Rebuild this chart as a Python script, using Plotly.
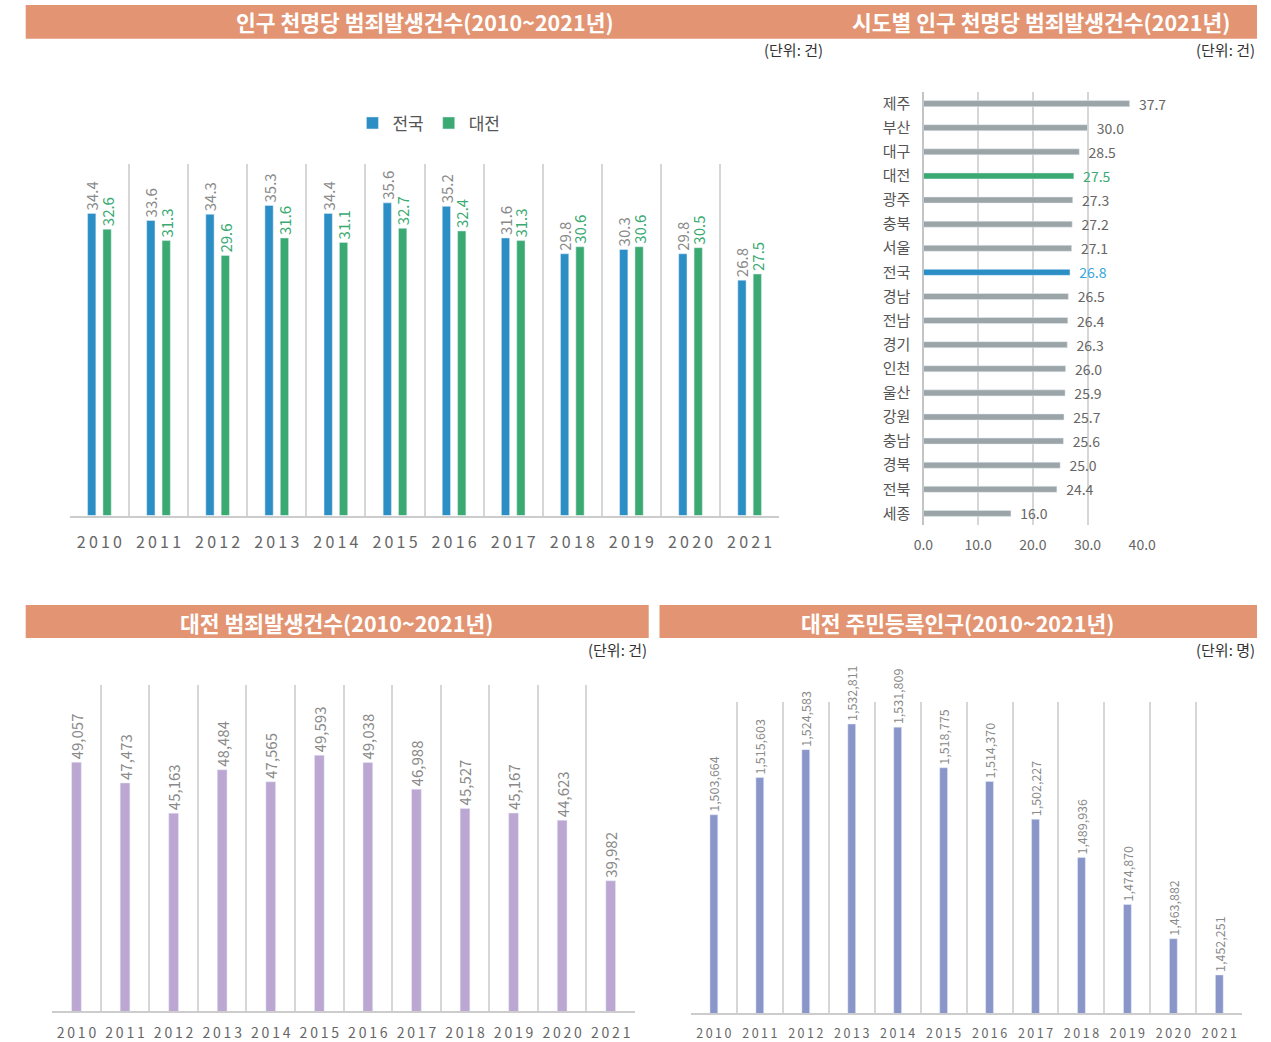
import plotly.graph_objects as go

# ---- data ----
years = ["2010", "2011", "2012", "2013", "2014", "2015",
         "2016", "2017", "2018", "2019", "2020", "2021"]

# crimes per 1,000 population
rate_national = [34.4, 33.6, 34.3, 35.3, 34.4, 35.6, 35.2, 31.6, 29.8, 30.3, 29.8, 26.8]
rate_daejeon = [32.6, 31.3, 29.6, 31.6, 31.1, 32.7, 32.4, 31.3, 30.6, 30.6, 30.5, 27.5]

# crimes per 1,000 population by region, 2021
regions = ["제주", "부산", "대구", "대전", "광주", "충북", "서울", "전국", "경남",
           "전남", "경기", "인천", "울산", "강원", "충남", "경북", "전북", "세종"]
region_rate = [37.7, 30.0, 28.5, 27.5, 27.3, 27.2, 27.1, 26.8, 26.5,
               26.4, 26.3, 26.0, 25.9, 25.7, 25.6, 25.0, 24.4, 16.0]

# Daejeon crime count
daejeon_crimes = [49057, 47473, 45163, 48484, 47565, 49593,
                  49038, 46988, 45527, 45167, 44623, 39982]

# Daejeon registered population
daejeon_population = [1503664, 1515603, 1524583, 1532811, 1531809, 1518775,
                      1514370, 1502227, 1489936, 1474870, 1463882, 1452251]

titles = ["인구 천명당 범죄발생건수(2010~2021년)",
          "시도별 인구 천명당 범죄발생건수(2021년)",
          "대전 범죄발생건수(2010~2021년)",
          "대전 주민등록인구(2010~2021년)"]
units = ["(단위: 건)", "(단위: 건)", "(단위: 건)", "(단위: 명)"]

# ---- style ----
W, H = 1271, 1042
FONT = "Noto Sans CJK KR, Noto Sans, sans-serif"
BLUE = "#2b8fc6"
GREEN = "#3aaa72"
GRAY_BAR = "#9ba5a7"
PURPLE = "#bba7d1"
PERIWINKLE = "#8a95c9"
HEADER = "#e39573"
GRID = "#d6d6d6"
LABEL_GRAY = "#8a8a8a"
NBSP = "\u00a0"


def fx(px):
    return px / W


def fy(py):
    return 1 - py / H


def spaced(s):
    return "\u2009".join(s)


fig = go.Figure()

# ---- chart 1: per-1000 rate, national vs Daejeon ----
fig.add_trace(go.Bar(
    x=years, y=rate_national, name="전국", marker_color=BLUE,
    width=0.14, offset=-0.2,
    text=[f"{v:.1f}" for v in rate_national], textposition="outside",
    textangle=-90, constraintext="none", cliponaxis=False,
    textfont=dict(color=LABEL_GRAY, size=15, family=FONT),
    xaxis="x", yaxis="y", legend="legend",
))
fig.add_trace(go.Bar(
    x=years, y=rate_daejeon, name="대전", marker_color=GREEN,
    width=0.14, offset=0.06,
    text=[f"{v:.1f}" for v in rate_daejeon], textposition="outside",
    textangle=-90, constraintext="none", cliponaxis=False,
    textfont=dict(color=GREEN, size=15, family=FONT),
    xaxis="x", yaxis="y", legend="legend",
))

# ---- chart 2: regional rate, 2021 ----
region_colors = [GREEN if r == "대전" else BLUE if r == "전국" else GRAY_BAR for r in regions]
region_text_colors = [GREEN if r == "대전" else "#35a6dc" if r == "전국" else "#666666" for r in regions]
fig.add_trace(go.Bar(
    y=regions, x=region_rate, orientation="h", marker_color=region_colors,
    width=0.25, showlegend=False,
    text=[f"{NBSP * 2}{v:.1f}" for v in region_rate], textposition="outside",
    constraintext="none", cliponaxis=False,
    textfont=dict(color=region_text_colors, size=14, family=FONT),
    xaxis="x2", yaxis="y2",
))

# ---- chart 3: Daejeon crime count ----
fig.add_trace(go.Bar(
    x=years, y=daejeon_crimes, marker_color=PURPLE, width=0.2, showlegend=False,
    text=[f"{v:,}" for v in daejeon_crimes], textposition="outside",
    textangle=-90, constraintext="none", cliponaxis=False,
    textfont=dict(color=LABEL_GRAY, size=15, family=FONT),
    xaxis="x3", yaxis="y3",
))

# ---- chart 4: Daejeon registered population ----
fig.add_trace(go.Bar(
    x=years, y=daejeon_population, marker_color=PERIWINKLE, width=0.17, showlegend=False,
    text=[f"{v:,}" for v in daejeon_population], textposition="outside",
    textangle=-90, constraintext="none", cliponaxis=False,
    textfont=dict(color=LABEL_GRAY, size=12.5, family=FONT),
    xaxis="x4", yaxis="y4",
))


def cat_xaxis(x0, x1, anchor, size, standoff):
    return dict(
        domain=[fx(x0), fx(x1)], anchor=anchor, type="category",
        tickson="boundaries", showgrid=True, gridcolor=GRID, gridwidth=1.5,
        showline=True, linecolor="#cccccc", linewidth=1.5, ticks="",
        tickvals=years, ticktext=[spaced(y) for y in years],
        tickfont=dict(size=size, color="#666666", family=FONT),
        ticklabelstandoff=standoff, range=[-0.5, 11.5], fixedrange=True,
    )


def hidden_yaxis(y0, y1, anchor, rng):
    return dict(
        domain=[fy(y1), fy(y0)], anchor=anchor, range=rng,
        showgrid=False, showticklabels=False, zeroline=False, showline=False,
        fixedrange=True,
    )


shapes = [
    dict(type="rect", xref="paper", yref="paper", x0=fx(16), x1=fx(1271),
         y0=fy(39), y1=fy(5), fillcolor=HEADER, line_width=0, layer="below"),
    dict(type="rect", xref="paper", yref="paper", x0=fx(16), x1=fx(651),
         y0=fy(641), y1=fy(608), fillcolor=HEADER, line_width=0, layer="below"),
    dict(type="rect", xref="paper", yref="paper", x0=fx(662), x1=fx(1271),
         y0=fy(641), y1=fy(608), fillcolor=HEADER, line_width=0, layer="below"),
]

annotations = []
title_pos = [(423, 22), (1051, 22), (333, 625), (966, 625)]
for t, (cx, cy) in zip(titles, title_pos):
    annotations.append(dict(
        text=f"<b>{t}</b>", xref="paper", yref="paper", x=fx(cx), y=fy(cy),
        xanchor="center", yanchor="middle", showarrow=False,
        font=dict(size=21.5, color="white", family=FONT),
    ))
unit_pos = [(831, 50), (1271, 50), (651, 653), (1271, 653)]
for u, (rx, cy) in zip(units, unit_pos):
    annotations.append(dict(
        text=u, xref="paper", yref="paper", x=fx(rx), y=fy(cy),
        xanchor="right", yanchor="middle", showarrow=False,
        font=dict(size=15, color="#333333", family=FONT),
    ))

fig.update_layout(
    width=W, height=H, margin=dict(l=0, r=0, t=0, b=0),
    paper_bgcolor="white", plot_bgcolor="white",
    font=dict(family=FONT),
    barmode="overlay",
    shapes=shapes, annotations=annotations,
    legend=dict(
        orientation="h", x=fx(427), y=fy(124), xanchor="center", yanchor="middle",
        font=dict(size=17, color="#555555", family=FONT),
        itemwidth=30, bgcolor="rgba(0,0,0,0)", traceorder="normal",
    ),
    xaxis=cat_xaxis(61, 784, "y", 16, 12),
    yaxis=hidden_yaxis(165, 518, "x", [0, 40]),
    xaxis2=dict(
        domain=[fx(931), fx(1154)], anchor="y2", range=[0, 40], dtick=10,
        tickformat=".1f", showgrid=True, gridcolor=GRID, gridwidth=1.5,
        zeroline=True, zerolinecolor="#c4c4c4", zerolinewidth=2,
        showline=False, ticks="", ticklabelstandoff=10,
        tickfont=dict(size=14, color="#666666", family=FONT), fixedrange=True,
    ),
    yaxis2=dict(
        domain=[fy(528), fy(92)], anchor="x2", type="category",
        autorange="reversed", showgrid=False, showline=False, ticks="",
        ticklabelstandoff=12,
        tickfont=dict(size=15, color="#555555", family=FONT), fixedrange=True,
    ),
    xaxis3=cat_xaxis(43, 637, "y3", 14, 8),
    yaxis3=hidden_yaxis(688, 1016, "x3", [30000, 55000]),
    xaxis4=cat_xaxis(694, 1256, "y4", 12.5, 8),
    yaxis4=hidden_yaxis(705, 1018, "x4", [1440000, 1540000]),
)

fig.write_html("out.html")
